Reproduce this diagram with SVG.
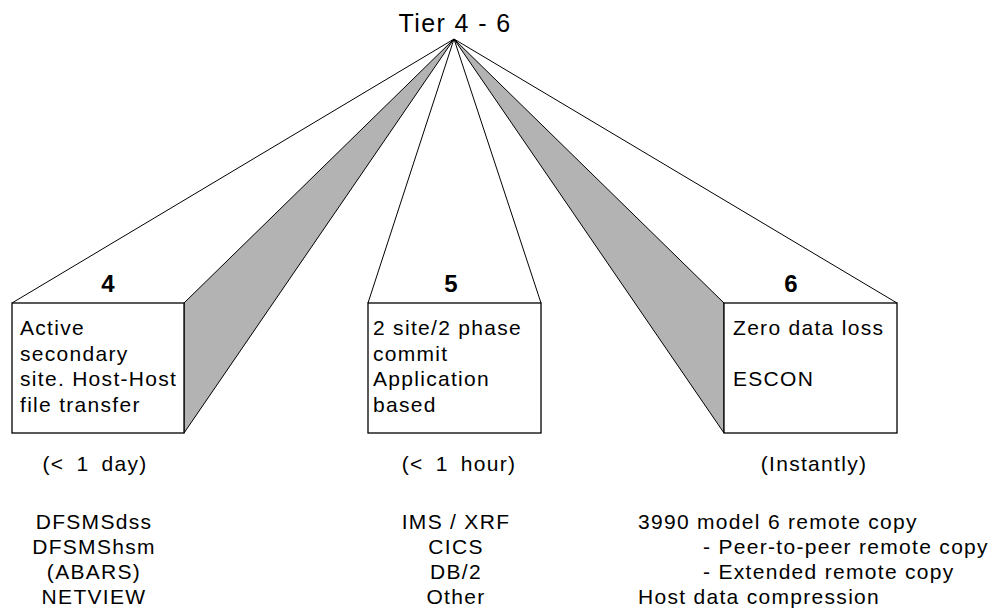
<svg xmlns="http://www.w3.org/2000/svg" width="995" height="610" viewBox="0 0 995 610">
<style>
  text { font-family: "Liberation Sans", Arial, Helvetica, sans-serif; fill: #000; }
  .t { font-size: 21px; letter-spacing: 1.3px; }
  .c { text-anchor: middle; }
  .num { font-size: 24px; font-weight: bold; text-anchor: middle; }
  .title { font-size: 25px; letter-spacing: 1.4px; text-anchor: middle; }
  .ws { word-spacing: 5px; }
  .box { fill: #fff; stroke: #000; stroke-width: 1.3; }
  .shade { fill: #b3b3b3; stroke: #000; stroke-width: 1; stroke-linejoin: round; }
  .ln { stroke: #000; stroke-width: 1; fill: none; }
</style>
<rect width="995" height="610" fill="#fff"/>
<g id="connectors">
  <polygon class="shade" points="454,39 184,303 184,433"/>
  <polygon class="shade" points="454,39 724,303 724,433"/>
  <line class="ln" x1="454" y1="39" x2="12" y2="303"/>
  <line class="ln" x1="454" y1="39" x2="368" y2="303"/>
  <line class="ln" x1="454" y1="39" x2="541" y2="303"/>
  <line class="ln" x1="454" y1="39" x2="897" y2="303"/>
</g>
<g id="tier">
  <text class="title" x="455" y="32">Tier 4 - 6</text>
</g>
<g id="tier4">
  <rect class="box" x="12" y="303" width="172" height="130"/>
  <text class="num" x="108" y="292">4</text>
  <text class="t" x="20" y="335">Active</text>
  <text class="t" x="20" y="361">secondary</text>
  <text class="t" x="20" y="386">site. Host-Host</text>
  <text class="t" x="20" y="412">file transfer</text>
  <text class="t c ws" x="95" y="471">(&lt; 1 day)</text>
  <text class="t c" x="94" y="529">DFSMSdss</text>
  <text class="t c" x="94" y="554">DFSMShsm</text>
  <text class="t c" x="94" y="579">(ABARS)</text>
  <text class="t c" x="94" y="604">NETVIEW</text>
</g>
<g id="tier5">
  <rect class="box" x="368" y="303" width="173" height="130"/>
  <text class="num" x="451" y="292">5</text>
  <text class="t" x="373" y="335">2 site/2 phase</text>
  <text class="t" x="373" y="361">commit</text>
  <text class="t" x="373" y="386">Application</text>
  <text class="t" x="373" y="412">based</text>
  <text class="t c ws" x="459" y="471">(&lt; 1 hour)</text>
  <text class="t c" x="456" y="529">IMS / XRF</text>
  <text class="t c" x="456" y="554">CICS</text>
  <text class="t c" x="456" y="579">DB/2</text>
  <text class="t c" x="456" y="604">Other</text>
</g>
<g id="tier6">
  <rect class="box" x="724" y="303" width="173" height="130"/>
  <text class="num" x="791" y="292">6</text>
  <text class="t" x="733" y="335">Zero data loss</text>
  <text class="t" x="733" y="386">ESCON</text>
  <text class="t c" x="814" y="471">(Instantly)</text>
  <text class="t" x="638" y="529">3990 model 6 remote copy</text>
  <text class="t" x="703" y="554">- Peer-to-peer remote copy</text>
  <text class="t" x="703" y="579">- Extended remote copy</text>
  <text class="t" x="638" y="604">Host data compression</text>
</g>
</svg>
